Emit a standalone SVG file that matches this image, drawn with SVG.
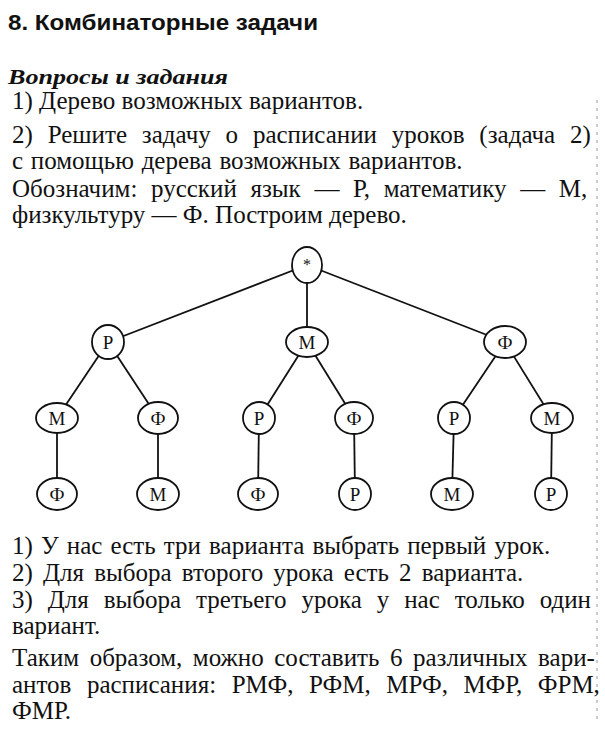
<svg xmlns="http://www.w3.org/2000/svg" width="605" height="743" viewBox="0 0 605 743">
<style>
.t{font-family:"Liberation Serif","Times New Roman",serif;font-size:25px;fill:#111}
.h{font-family:"Liberation Sans",Arial,sans-serif;font-size:22px;font-weight:bold;fill:#111}
.hi{font-family:"Liberation Serif","Times New Roman",serif;font-size:22px;font-weight:bold;font-style:italic;fill:#111}
.e{fill:#fff;stroke:#111;stroke-width:1.8}
.l{font-family:"Liberation Serif","Times New Roman",serif;font-size:19px;fill:#111;text-anchor:middle}
.c line{stroke:#111;stroke-width:1.8}
</style>
<rect width="605" height="743" fill="#fff"/>
<line x1="597" y1="100" x2="597" y2="720" stroke="#999" stroke-width="1" stroke-dasharray="3 5"/>
<g id="text-top">
<text class="h" x="8" y="30" textLength="310" lengthAdjust="spacingAndGlyphs">8. Комбинаторные задачи</text>
<text class="hi" x="8" y="84" textLength="220" lengthAdjust="spacingAndGlyphs">Вопросы и задания</text>
<text class="t" x="12" y="109">1) Дерево возможных вариантов.</text>
<text class="t" x="12" y="143" word-spacing="8.6">2) Решите задачу о расписании уроков (задача 2)</text>
<text class="t" x="12" y="169" word-spacing="1.5">с помощью дерева возможных вариантов.</text>
<text class="t" x="12" y="197" word-spacing="7.4">Обозначим: русский язык — Р, математику — М,</text>
<text class="t" x="12" y="223">физкультуру — Ф. Построим дерево.</text>
</g>
<g id="connectors" class="c">
<line x1="307" y1="265" x2="108" y2="342"/>
<line x1="307" y1="265" x2="307" y2="342"/>
<line x1="307" y1="265" x2="505" y2="342"/>
<line x1="108" y1="342" x2="57" y2="418"/>
<line x1="108" y1="342" x2="158" y2="418"/>
<line x1="307" y1="342" x2="259" y2="418"/>
<line x1="307" y1="342" x2="354" y2="418"/>
<line x1="505" y1="342" x2="454" y2="418"/>
<line x1="505" y1="342" x2="552" y2="418"/>
<line x1="57" y1="418" x2="57" y2="494"/>
<line x1="158" y1="418" x2="158" y2="494"/>
<line x1="259" y1="418" x2="258" y2="494"/>
<line x1="354" y1="418" x2="355" y2="494"/>
<line x1="454" y1="418" x2="452" y2="494"/>
<line x1="552" y1="418" x2="551" y2="494"/>
</g>
<g id="n-root"><ellipse class="e" cx="307" cy="265" rx="15" ry="18"/><text class="l" x="307" y="270" style="font-size:16px">*</text></g>
<g id="n-P"><ellipse class="e" cx="108" cy="342" rx="16" ry="17"/><text class="l" x="108" y="349">Р</text></g>
<g id="n-M"><ellipse class="e" cx="307" cy="342" rx="21" ry="15"/><text class="l" x="307" y="349">М</text></g>
<g id="n-F"><ellipse class="e" cx="505" cy="342" rx="21" ry="16"/><text class="l" x="505" y="349">Ф</text></g>
<g id="n-PM"><ellipse class="e" cx="57" cy="418" rx="21" ry="15"/><text class="l" x="57" y="425">М</text></g>
<g id="n-PF"><ellipse class="e" cx="158" cy="418" rx="20" ry="16"/><text class="l" x="158" y="425">Ф</text></g>
<g id="n-MP"><ellipse class="e" cx="259" cy="418" rx="16" ry="16"/><text class="l" x="259" y="425">Р</text></g>
<g id="n-MF"><ellipse class="e" cx="354" cy="418" rx="19" ry="16"/><text class="l" x="354" y="425">Ф</text></g>
<g id="n-FP"><ellipse class="e" cx="454" cy="418" rx="16" ry="16"/><text class="l" x="454" y="425">Р</text></g>
<g id="n-FM"><ellipse class="e" cx="552" cy="418" rx="21" ry="15"/><text class="l" x="552" y="425">М</text></g>
<g id="n-PMF"><ellipse class="e" cx="57" cy="494" rx="20" ry="16"/><text class="l" x="57" y="501">Ф</text></g>
<g id="n-PFM"><ellipse class="e" cx="158" cy="494" rx="21" ry="16"/><text class="l" x="158" y="501">М</text></g>
<g id="n-MPF"><ellipse class="e" cx="258" cy="494" rx="20" ry="16"/><text class="l" x="258" y="501">Ф</text></g>
<g id="n-MFP"><ellipse class="e" cx="355" cy="494" rx="16" ry="16"/><text class="l" x="355" y="501">Р</text></g>
<g id="n-FPM"><ellipse class="e" cx="452" cy="494" rx="21" ry="16"/><text class="l" x="452" y="501">М</text></g>
<g id="n-FMP"><ellipse class="e" cx="551" cy="494" rx="16" ry="16"/><text class="l" x="551" y="501">Р</text></g>
<g id="text-bottom">
<text class="t" x="12" y="554" word-spacing="1.9">1) У нас есть три варианта выбрать первый урок.</text>
<text class="t" x="12" y="581" word-spacing="3.9">2) Для выбора второго урока есть 2 варианта.</text>
<text class="t" x="12" y="608" word-spacing="8.7">3) Для выбора третьего урока у нас только один</text>
<text class="t" x="12" y="634">вариант.</text>
<text class="t" x="12" y="666" word-spacing="4.3">Таким образом, можно составить 6 различных вари-</text>
<text class="t" x="12" y="693" word-spacing="9.3">антов расписания: РМФ, РФМ, МРФ, МФР, ФРМ,</text>
<text class="t" x="12" y="719">ФМР.</text>
</g>
</svg>
